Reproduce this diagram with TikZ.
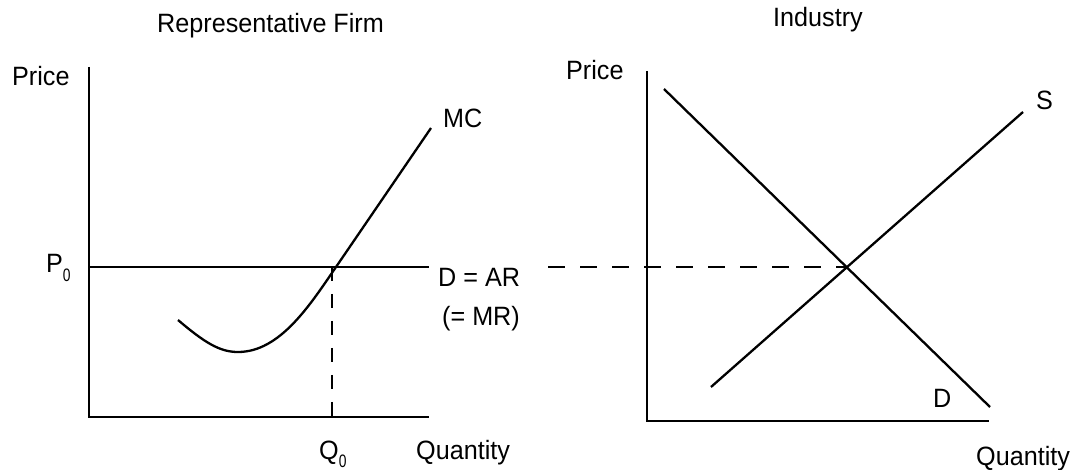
\documentclass[tikz,border=0pt]{standalone}
\usepackage{fontspec}
\setmainfont{Liberation Sans}[FakeStretch=0.95]
\usepackage{graphicx}
\newcommand{\lowzero}{\raisebox{-9pt}{\scalebox{0.55}[0.68]{0}}}

\begin{document}
\begin{tikzpicture}[x=1pt,y=-1pt,
  lbl/.style={anchor=base west,inner sep=0pt,font=\fontsize{26.5}{30}\selectfont},
  axis/.style={line width=2.7pt},
  curve/.style={line width=2.3pt},
  guide/.style={line width=1.7pt,dash pattern=on 14pt off 13pt},
  bridge/.style={line width=2.7pt,dash pattern=on 17pt off 15pt}]
\useasboundingbox (0,0) rectangle (1077,470);

% representative firm
\node[lbl] (firmtitle) at (157,33) {Representative Firm};
\node[lbl] (fprice) at (12,86) {Price};
\node[lbl] (fqty) at (416,459) {Quantity};
\node[lbl] (pzero) at (46,273) {P\lowzero};
\node[lbl] (qzero) at (319,459) {Q\lowzero};
\node[lbl] (mclabel) at (443,128) {MC};
\node[lbl] (arlabel) at (438,287) {D = AR};
\node[lbl] (mrlabel) at (442,326) {(= MR)};
\coordinate (fO) at (89,417);
\coordinate (fY) at (89,67);
\coordinate (fX) at (429,417);
\coordinate (arL) at (89,267);
\coordinate (arR) at (429,267);
\coordinate (fE) at (336,267);
\coordinate (qtop) at (332,267);
\coordinate (qbot) at (332,417);
\draw[axis] (fY) -- (fO) -- (fX);
\draw[curve] (arL) -- (arR);
\draw[curve] (178,320) .. controls (205,343) and (220,352) .. (238,352)
  .. controls (280,352) and (310,305) .. (fE) -- (431,128);
\draw[guide] (qtop) -- (qbot);

% industry
\node[lbl] (indtitle) at (773,27) {Industry};
\node[lbl] (iprice) at (566,80) {Price};
\node[lbl] (iqty) at (976,465) {Quantity};
\node[lbl] (slabel) at (1036,110) {S};
\node[lbl] (dlabel) at (933,408) {D};
\coordinate (iO) at (647,421);
\coordinate (iY) at (647,71);
\coordinate (iX) at (989,421);
\coordinate (dTop) at (664,89);
\coordinate (dBot) at (990,407);
\coordinate (sBot) at (711,387);
\coordinate (sTop) at (1023,112);
\coordinate (iE) at (846,267);
\coordinate (link) at (548,267);
\draw[axis] (iY) -- (iO) -- (iX);
\draw[curve] (dTop) -- (dBot);
\draw[curve] (sBot) -- (sTop);
\draw[bridge] (link) -- (iE);
\end{tikzpicture}
\end{document}
